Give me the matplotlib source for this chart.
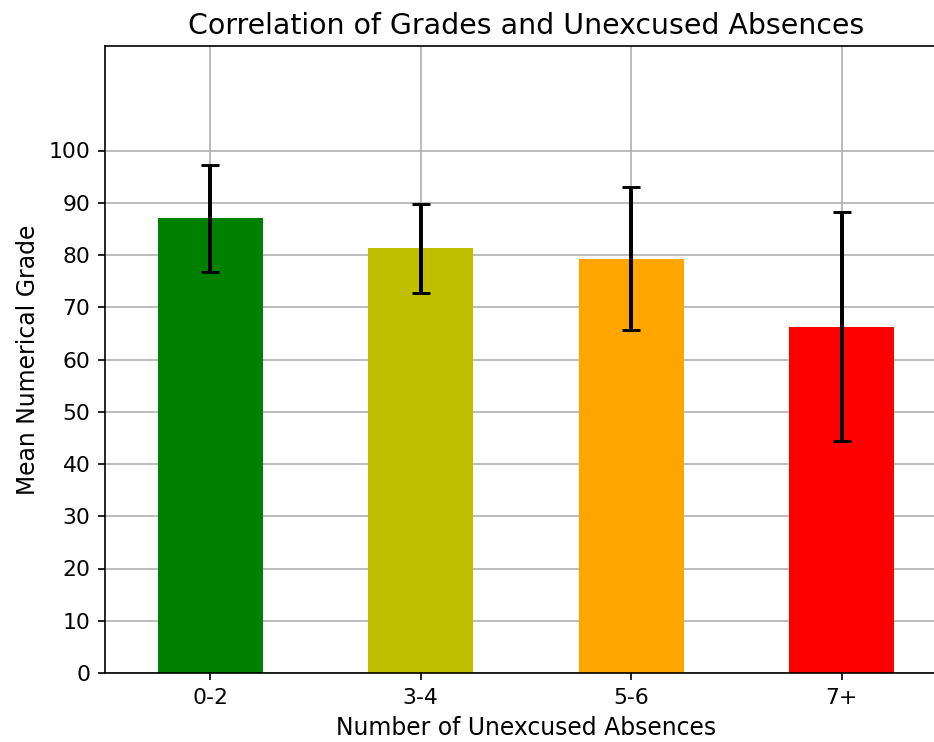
import matplotlib
matplotlib.use('Agg')
import matplotlib.pyplot as plt
import numpy as np

# data
groups = ['0-2', '3-4', '5-6', '7+']
means = [87.0, 81.3, 79.3, 66.3]
errs = [10.3, 8.5, 13.7, 21.9]
colors = ['green', 'y', 'orange', 'red']

fig = plt.figure(figsize=(934/150, 742/150), dpi=150)
# right edge of the axes falls just outside the canvas, as in the original
ax = fig.add_axes([105/934, 1-673/742, 842/934, 627/742])

x = np.arange(len(groups))
ax.bar(x, means, width=0.5, color=colors, yerr=errs, capsize=4.5,
       error_kw={'elinewidth': 1.9, 'capthick': 1.4, 'ecolor': 'black'})
ax.set_axisbelow(True)
ax.grid(True, color='#b0b0b0', linewidth=0.8)

ax.set_xlim(-0.5, 3.5)
ax.set_ylim(0, 120)
ax.set_yticks(np.arange(0, 101, 10))
ax.set_xticks(x)
ax.set_xticklabels(groups)
ax.tick_params(labelsize=10.5)

ax.set_title('Correlation of Grades and Unexcused Absences', fontsize=13.6)
ax.set_xlabel('Number of Unexcused Absences', fontsize=11.3)
ax.set_ylabel('Mean Numerical Grade', fontsize=11.3)

fig.savefig('out.png', dpi=150)
